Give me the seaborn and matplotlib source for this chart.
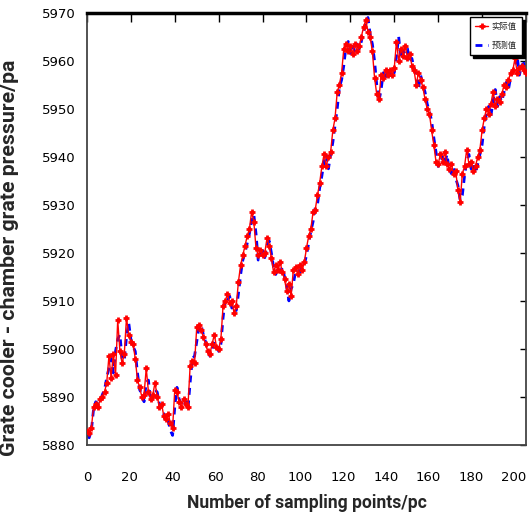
import numpy as np
import pandas as pd
import seaborn as sns
import matplotlib
matplotlib.use("Agg")
import matplotlib.pyplot as plt
import matplotlib.transforms as mtransforms

sns.set_style("white")
plt.rcParams['font.family'] = ['DejaVu Sans', 'Noto Sans CJK SC']

# ---- data ----
sample_idx = list(range(0, 201))

actual = [
    5883.0, 5882.5, 5883.5, 5888.0, 5888.5, 5888.0, 5889.5, 5890.0, 5891.0, 5893.0,
    5898.5, 5894.0, 5899.0, 5894.5, 5906.0, 5899.5, 5897.0, 5899.0, 5906.5, 5903.0,
    5901.5, 5901.0, 5898.0, 5893.5, 5892.0, 5890.0, 5890.5, 5896.0, 5891.0, 5889.5,
    5890.5, 5893.0, 5890.0, 5888.0, 5888.5, 5886.0, 5885.5, 5886.5, 5884.5, 5883.5,
    5891.5, 5891.0, 5889.0, 5888.0, 5889.5, 5888.5, 5888.0, 5896.5, 5897.5, 5897.0,
    5904.5, 5905.0, 5904.0, 5902.5, 5901.0, 5899.5, 5899.0, 5901.0, 5903.0, 5900.5,
    5900.0, 5902.0, 5909.0, 5910.0, 5911.5, 5909.5, 5910.0, 5907.5, 5909.0, 5914.0,
    5917.5, 5919.5, 5921.5, 5923.5, 5925.0, 5928.5, 5926.5, 5921.0, 5919.5, 5920.5,
    5919.5, 5920.0, 5923.0, 5921.5, 5919.0, 5916.0, 5917.5, 5916.5, 5918.0, 5916.0,
    5914.5, 5912.0, 5913.5, 5911.0, 5916.5, 5917.0, 5915.5, 5917.5, 5916.5, 5918.0,
    5921.0, 5923.5, 5925.0, 5928.5, 5929.0, 5932.0, 5934.5, 5938.0, 5940.5, 5938.0,
    5940.0, 5941.0, 5945.5, 5948.0, 5953.5, 5955.0, 5957.5, 5962.5, 5963.5, 5962.0,
    5963.0, 5961.5, 5963.5, 5962.0, 5963.0, 5965.0, 5967.0, 5968.5, 5966.0, 5965.0,
    5962.0, 5956.5, 5953.0, 5952.0, 5957.0, 5956.5, 5958.0, 5957.0, 5958.0, 5957.0,
    5958.5, 5964.0, 5960.0, 5962.5, 5961.0, 5963.0, 5960.5, 5961.5, 5959.0, 5958.0,
    5955.0, 5957.5, 5956.0, 5954.5, 5952.0, 5950.0, 5949.0, 5945.5, 5942.5, 5939.0,
    5938.5, 5940.5, 5939.0, 5941.0, 5938.5, 5937.5, 5938.5, 5936.5, 5937.0, 5933.0,
    5930.5, 5936.5, 5938.0, 5941.5, 5938.5, 5939.0, 5937.0, 5938.0, 5940.0, 5941.5,
    5945.5, 5948.0, 5950.0, 5949.0, 5951.0, 5953.5, 5950.5, 5952.0, 5951.5, 5953.0,
    5955.0, 5954.5, 5956.0, 5957.5, 5958.0, 5960.5, 5957.5, 5958.5, 5959.0, 5958.0,
    5957.5,
]

predicted = [
    5882.0, 5881.5, 5883.0, 5887.5, 5889.0, 5888.5, 5889.0, 5890.5, 5891.5, 5894.0,
    5896.0, 5898.0, 5895.0, 5899.5, 5902.0, 5903.0, 5898.0, 5897.5, 5902.5, 5905.5,
    5902.0, 5900.5, 5899.5, 5895.0, 5891.5, 5890.5, 5889.0, 5893.0, 5893.5, 5889.0,
    5890.0, 5891.5, 5891.0, 5888.5, 5887.0, 5886.5, 5884.5, 5885.0, 5883.0, 5882.0,
    5888.0, 5892.0, 5889.5, 5888.5, 5888.0, 5889.0, 5887.5, 5893.0, 5898.0, 5898.5,
    5901.5, 5904.5, 5905.0, 5903.0, 5901.5, 5900.0, 5898.5, 5900.0, 5901.5, 5901.0,
    5899.5, 5901.0, 5906.5, 5910.5, 5910.0, 5911.0, 5908.5, 5909.0, 5908.0, 5911.5,
    5915.5, 5918.5, 5920.0, 5922.0, 5924.0, 5926.5, 5928.0, 5924.0, 5918.5, 5920.0,
    5920.5, 5919.0, 5921.5, 5922.5, 5920.0, 5917.0, 5915.5, 5917.0, 5916.0, 5917.0,
    5915.0, 5913.0, 5910.0, 5912.5, 5913.5, 5916.0, 5916.5, 5916.0, 5917.0, 5917.5,
    5919.5, 5922.0, 5924.5, 5926.5, 5929.5, 5930.0, 5933.5, 5936.0, 5939.0, 5940.5,
    5937.5, 5940.5, 5943.0, 5946.5, 5950.0, 5954.5, 5956.0, 5959.0, 5963.0, 5964.0,
    5961.5, 5963.0, 5962.0, 5963.5, 5962.5, 5964.0, 5966.0, 5967.5, 5969.0, 5965.5,
    5963.5, 5960.0, 5955.0, 5951.5, 5954.0, 5957.5, 5956.0, 5958.5, 5957.0, 5958.0,
    5957.5, 5961.0, 5965.0, 5960.5, 5962.0, 5961.5, 5962.5, 5960.0, 5960.5, 5958.5,
    5957.0, 5954.0, 5957.0, 5955.0, 5953.5, 5951.0, 5949.5, 5947.5, 5944.0, 5941.0,
    5938.0, 5939.0, 5940.0, 5938.5, 5940.5, 5937.5, 5936.5, 5938.0, 5935.5, 5934.0,
    5931.0, 5932.0, 5936.0, 5939.0, 5940.5, 5937.5, 5938.5, 5936.5, 5938.5, 5940.5,
    5942.5, 5946.5, 5949.0, 5950.5, 5948.5, 5951.5, 5954.0, 5950.5, 5952.5, 5951.5,
    5953.5, 5955.5, 5954.0, 5956.5, 5958.0, 5958.5, 5961.0, 5957.0, 5959.0, 5959.5,
    5958.0,
]

series_labels = ["实际值", "预测值"]
x_ticks = [0, 20, 40, 60, 80, 100, 120, 140, 160, 180, 200]
y_ticks = [5880, 5890, 5900, 5910, 5920, 5930, 5940, 5950, 5960, 5970]
x_title = "Number of sampling points/pc"
y_title = "Grate cooler - chamber grate pressure/pa"

df = pd.DataFrame({"idx": sample_idx, "actual": actual, "predicted": predicted})

fig = plt.figure(figsize=(5.32, 5.24), dpi=100)
ax = fig.add_axes([0.1635, 0.1508, 0.8252, 0.825])

sns.lineplot(data=df, x="idx", y="actual", ax=ax, color="#ff0000", linewidth=1.0,
             marker="+", markersize=5, markeredgewidth=2.0,
             markeredgecolor="#ff0000", label=series_labels[0], zorder=3)
sns.lineplot(data=df, x="idx", y="predicted", ax=ax, color="#0000ff", linewidth=2.0,
             linestyle=(0, (2.5, 2.0)), label=series_labels[1], zorder=2)

ax.set_xlim(0, 200)
ax.set_ylim(5880, 5970)
ax.set_xticks(x_ticks)
ax.set_yticks(y_ticks)
ax.tick_params(axis="both", direction="in", top=True, right=True, labelsize=9.5,
               colors="black")
ax.tick_params(axis="x", length=6.5, width=1.0, pad=19)
ax.tick_params(axis="y", length=4.5, width=1.0, pad=8)

# tick labels in the reference sit slightly compressed toward the left
fig.canvas.draw()
for lab, xv in zip(ax.get_xticklabels(), x_ticks):
    off = mtransforms.ScaledTranslation(-(xv / 200.0) * 12 / 100.0, 0, fig.dpi_scale_trans)
    lab.set_transform(lab.get_transform() + off)

for side in ["left", "right", "bottom"]:
    ax.spines[side].set_linewidth(1.3)
    ax.spines[side].set_color("#444444")
ax.spines["top"].set_linewidth(2.5)
ax.spines["top"].set_color("black")

title_font = ["Roboto", "DejaVu Sans"]
xl = ax.set_xlabel(x_title, fontsize=13, fontweight="bold", family=title_font, labelpad=7)
yl = ax.set_ylabel(y_title, fontsize=13, fontweight="bold", family=title_font)
ax.yaxis.set_label_coords(-0.155, 0.433)

# scale title fonts to the reference's text extents
renderer = fig.canvas.get_renderer()
wx = xl.get_window_extent(renderer).width
xl.set_fontsize(13 * 240.0 / wx)
hy = yl.get_window_extent(renderer).height
yl.set_fontsize(13 * 398.0 / hy)

leg = ax.legend(loc="upper right", frameon=True, fancybox=False,
                edgecolor="black", handlelength=1.6, borderpad=0.6,
                labelspacing=1.2, borderaxespad=0.5, handletextpad=0.4,
                numpoints=1,
                prop={"family": ["Noto Sans CJK SC", "DejaVu Sans"], "size": 6},
                shadow={"color": "black", "alpha": 1.0})
leg.get_frame().set_linewidth(1.0)

fig.savefig("out.png", dpi=100)
